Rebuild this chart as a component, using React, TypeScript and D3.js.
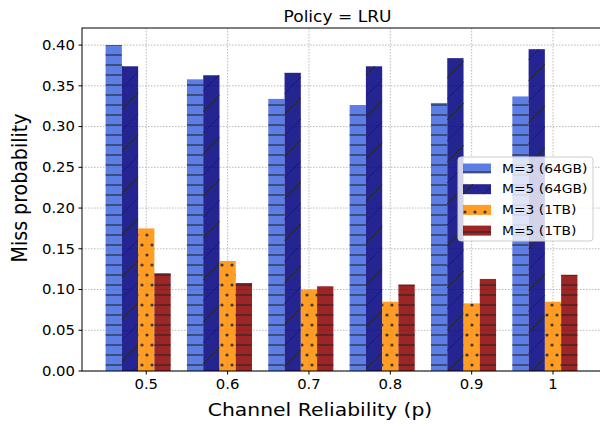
import { useEffect, useRef } from 'react';
import * as d3 from 'd3';

// channel reliability values (x groups)
const pValues = [0.5, 0.6, 0.7, 0.8, 0.9, 1.0];
const xTickLabels = ['0.5', '0.6', '0.7', '0.8', '0.9', '1'];
const yTicks = [0, 0.05, 0.1, 0.15, 0.2, 0.25, 0.3, 0.35, 0.4];

const seriesNames = ['M=3 (64GB)', 'M=5 (64GB)', 'M=3 (1TB)', 'M=5 (1TB)'];
const m3_64gb = [0.4, 0.358, 0.334, 0.326, 0.329, 0.337];
const m5_64gb = [0.374, 0.363, 0.366, 0.374, 0.384, 0.395];
const m3_1tb = [0.175, 0.135, 0.1, 0.085, 0.083, 0.085];
const m5_1tb = [0.12, 0.108, 0.104, 0.106, 0.113, 0.118];

const seriesValues = [m3_64gb, m5_64gb, m3_1tb, m5_1tb];
const seriesColors = ['#4169e1', '#000080', '#ff8c00', '#8b0000'];
const seriesHatch = ['hatch-h', 'hatch-d', 'hatch-o', 'hatch-h'];

export default function App() {
  const svgRef = useRef<SVGSVGElement>(null);
  const width = 600;
  const height = 424;

  useEffect(() => {
    const root = d3.select(svgRef.current);
    root.selectAll('*').remove();

    const left = 82, right = 601, top = 28, bottom = 371;
    const font = 'DejaVu Sans, sans-serif';
    const sx = 1.1; // glyphs in the picture are a bit wider than tall

    const x = d3.scaleLinear().domain([0.421, 1.059]).range([left, right]);
    const y = d3.scaleLinear().domain([0, 0.421]).range([bottom, top]);
    const barW = 0.02;

    const addText = (g: any, tx: number, ty: number, str: string, size: number,
      anchor = 'start', baseline = 'auto', rot = 0) => {
      g.append('text')
        .attr('transform', `translate(${tx},${ty}) rotate(${rot}) scale(${rot ? 1 : sx},${rot ? sx : 1})`)
        .attr('text-anchor', anchor).attr('dominant-baseline', baseline)
        .attr('font-family', font).attr('font-size', size).attr('fill', '#000')
        .text(str);
    };

    // hatch patterns
    const defs = root.append('defs');
    const ph = defs.append('pattern').attr('id', 'hatch-h')
      .attr('patternUnits', 'userSpaceOnUse').attr('width', 10).attr('height', 10);
    ph.append('line').attr('x1', 0).attr('x2', 10).attr('y1', 5).attr('y2', 5)
      .attr('stroke', '#000').attr('stroke-width', 1.1);
    const pd = defs.append('pattern').attr('id', 'hatch-d')
      .attr('patternUnits', 'userSpaceOnUse').attr('width', 21).attr('height', 21);
    pd.append('path').attr('d', 'M-1,22 L22,-1 M-11,11 L11,-11 M10,32 L32,10')
      .attr('stroke', '#000').attr('stroke-width', 1);
    const po = defs.append('pattern').attr('id', 'hatch-o')
      .attr('patternUnits', 'userSpaceOnUse').attr('width', 10).attr('height', 20);
    [[2, 5], [7, 15]].forEach(([cx, cy]) => {
      po.append('circle').attr('cx', cx).attr('cy', cy).attr('r', 1.6)
        .attr('fill', '#1a1a1a').attr('stroke', 'none');
    });

    // grid
    const grid = root.append('g').attr('stroke', '#a8a8a8').attr('stroke-width', 0.8)
      .attr('stroke-dasharray', '1.5,1.5');
    yTicks.forEach(t => {
      grid.append('line').attr('x1', left).attr('x2', right)
        .attr('y1', y(t)).attr('y2', y(t));
    });
    pValues.forEach(p => {
      grid.append('line').attr('x1', x(p)).attr('x2', x(p))
        .attr('y1', top).attr('y2', bottom);
    });

    // bars
    seriesValues.forEach((vals, si) => {
      const g = root.append('g').attr('opacity', 0.85);
      vals.forEach((v, i) => {
        const cx = pValues[i] + (si - 2) * barW;
        const x0 = x(cx - barW / 2);
        const w = x(cx + barW / 2) - x0;
        g.append('rect').attr('x', x0).attr('y', y(v)).attr('width', w)
          .attr('height', y(0) - y(v)).attr('fill', seriesColors[si]);
        g.append('rect').attr('x', x0).attr('y', y(v)).attr('width', w)
          .attr('height', y(0) - y(v)).attr('fill', `url(#${seriesHatch[si]})`);
      });
    });

    // frame
    root.append('rect').attr('x', left).attr('y', top)
      .attr('width', right - left).attr('height', bottom - top)
      .attr('fill', 'none').attr('stroke', '#000').attr('stroke-width', 1);

    // y axis
    const ya = root.append('g');
    yTicks.forEach(t => {
      ya.append('line').attr('x1', left - 3.5).attr('x2', left)
        .attr('y1', y(t)).attr('y2', y(t)).attr('stroke', '#000');
      addText(ya, left - 7, y(t), d3.format('.2f')(t), 13.5, 'end', 'central');
    });

    // x axis
    const xa = root.append('g');
    pValues.forEach((p, i) => {
      xa.append('line').attr('x1', x(p)).attr('x2', x(p))
        .attr('y1', bottom).attr('y2', bottom + 3.5).attr('stroke', '#000');
      addText(xa, x(p), bottom + 18, xTickLabels[i], 13.5, 'middle');
    });

    // labels and title
    addText(root, 320, 416, 'Channel Reliability (p)', 18.5, 'middle');
    addText(root, 27, 188, 'Miss probability', 19, 'middle', 'auto', -90);
    addText(root, 337.5, 22, 'Policy = LRU', 15.5, 'middle');

    // legend
    const lg = root.append('g').attr('transform', 'translate(458,157)');
    lg.append('rect').attr('width', 135).attr('height', 84).attr('rx', 3)
      .attr('fill', '#fff').attr('fill-opacity', 0.8).attr('stroke', '#cccccc');
    seriesNames.forEach((name, si) => {
      const cy = 11.5 + si * 20.7;
      const hg = lg.append('g').attr('opacity', 0.85);
      hg.append('rect').attr('x', 5).attr('y', cy - 5).attr('width', 28).attr('height', 10)
        .attr('fill', seriesColors[si]);
      hg.append('rect').attr('x', 5).attr('y', cy - 5).attr('width', 28).attr('height', 10)
        .attr('fill', `url(#${seriesHatch[si]})`);
      addText(lg, 44, cy, name, 12.6, 'start', 'central');
    });
  }, []);

  return (
    <svg ref={svgRef} width={width} height={height}
      style={{ position: 'absolute', left: 0, top: 0, background: '#fff' }} />
  );
}
